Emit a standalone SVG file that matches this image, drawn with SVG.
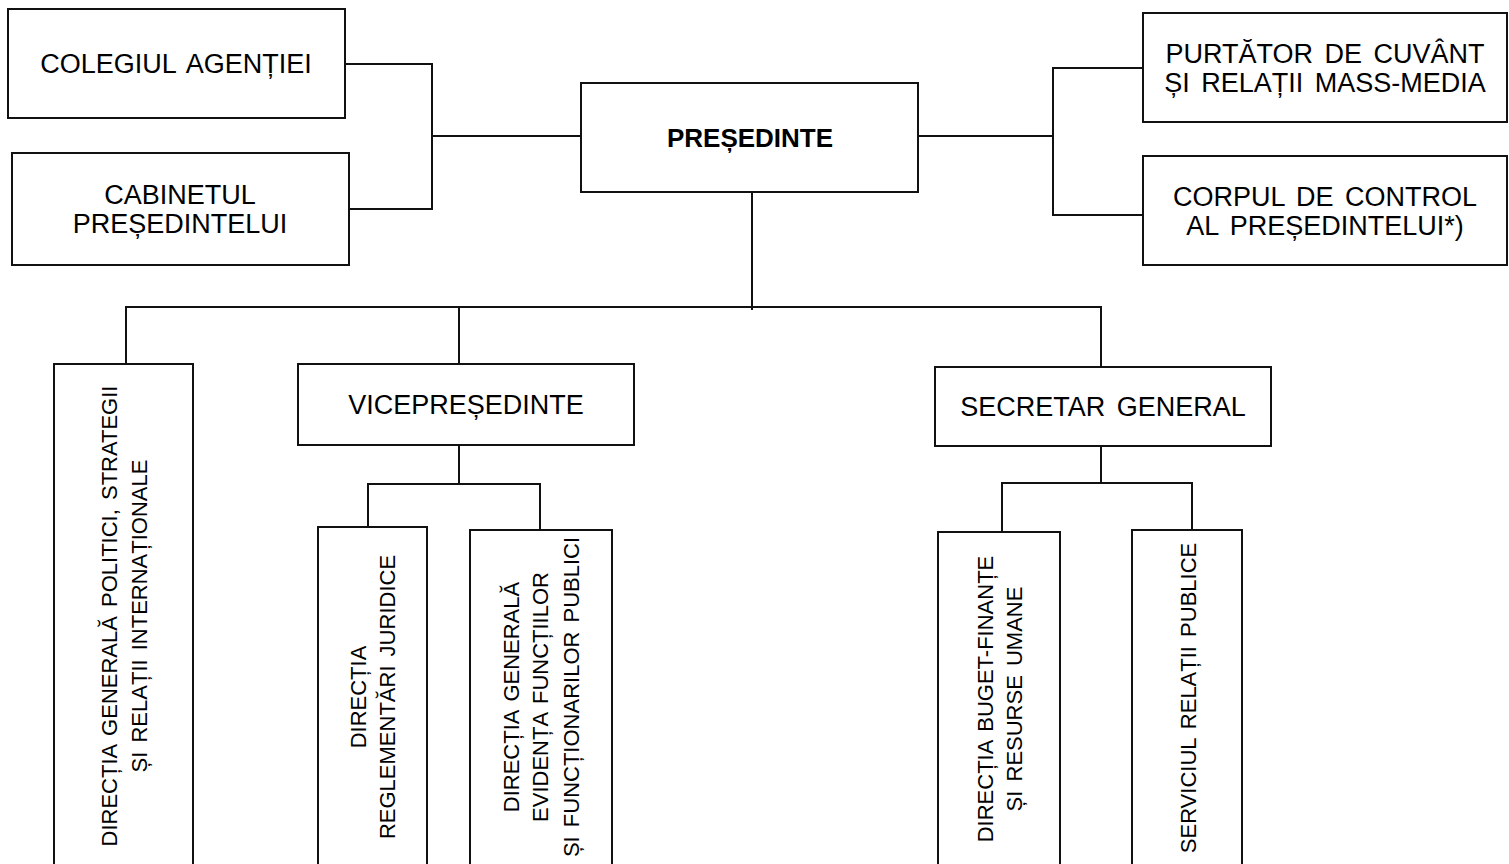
<svg xmlns="http://www.w3.org/2000/svg" width="1509" height="864" viewBox="0 0 1509 864">
<style>
.box{fill:#fff;stroke:#111;stroke-width:2}
.ln{fill:none;stroke:#111;stroke-width:2}
.t{font-family:"Liberation Sans",Arial,Helvetica,sans-serif;font-size:27px;fill:#000;text-anchor:middle;word-spacing:4px}
.b{font-weight:bold;font-size:26px;word-spacing:0}
.v{font-family:"Liberation Sans",Arial,Helvetica,sans-serif;font-size:22px;fill:#000;text-anchor:middle;word-spacing:3px}
</style>
<rect width="1509" height="864" fill="#fff"/>
<g id="connectors">
<polyline class="ln" points="345,64 432,64 432,209 349,209"/>
<line class="ln" x1="432" y1="136" x2="581" y2="136"/>
<line class="ln" x1="918" y1="136" x2="1053" y2="136"/>
<polyline class="ln" points="1143,68 1053,68 1053,215 1143,215"/>
<line class="ln" x1="752" y1="192" x2="752" y2="310"/>
<line class="ln" x1="125" y1="307" x2="1102" y2="307"/>
<line class="ln" x1="126" y1="307" x2="126" y2="364"/>
<line class="ln" x1="459" y1="307" x2="459" y2="364"/>
<line class="ln" x1="1101" y1="307" x2="1101" y2="367"/>
<line class="ln" x1="459" y1="445" x2="459" y2="484"/>
<polyline class="ln" points="368,527 368,484 540,484 540,530"/>
<line class="ln" x1="1101" y1="446" x2="1101" y2="483"/>
<polyline class="ln" points="1002,532 1002,483 1192,483 1192,530"/>
</g>
<g id="colegiul">
<rect class="box" x="8" y="9" width="337" height="109"/>
<text class="t" x="176" y="73">COLEGIUL AGENȚIEI</text>
</g>
<g id="cabinetul">
<rect class="box" x="12" y="153" width="337" height="112"/>
<text class="t" x="180" y="204">CABINETUL</text>
<text class="t" x="180" y="233">PREȘEDINTELUI</text>
</g>
<g id="presedinte">
<rect class="box" x="581" y="83" width="337" height="109"/>
<text class="t b" x="750" y="147">PREȘEDINTE</text>
</g>
<g id="purtator">
<rect class="box" x="1143" y="13" width="364" height="109"/>
<text class="t" x="1325" y="63">PURTĂTOR DE CUVÂNT</text>
<text class="t" x="1325" y="92">ȘI RELAȚII MASS-MEDIA</text>
</g>
<g id="corpul">
<rect class="box" x="1143" y="156" width="364" height="109"/>
<text class="t" x="1325" y="206">CORPUL DE CONTROL</text>
<text class="t" x="1325" y="235">AL PREȘEDINTELUI*)</text>
</g>
<g id="vicepresedinte">
<rect class="box" x="298" y="364" width="336" height="81"/>
<text class="t" x="466" y="414">VICEPREȘEDINTE</text>
</g>
<g id="secretar">
<rect class="box" x="935" y="367" width="336" height="79"/>
<text class="t" x="1103" y="416">SECRETAR GENERAL</text>
</g>
<g id="dir-politici">
<rect class="box" x="54" y="364" width="139" height="520"/>
<text class="v" transform="translate(117,616) rotate(-90)"><tspan x="0" y="0">DIRECȚIA GENERALĂ POLITICI, STRATEGII</tspan><tspan x="0" dy="30">ȘI RELAȚII INTERNAȚIONALE</tspan></text>
</g>
<g id="dir-juridice">
<rect class="box" x="318" y="527" width="109" height="357"/>
<text class="v" transform="translate(366,697) rotate(-90)"><tspan x="0" y="0">DIRECȚIA</tspan><tspan x="0" dy="29">REGLEMENTĂRI JURIDICE</tspan></text>
</g>
<g id="dir-evidenta">
<rect class="box" x="470" y="530" width="142" height="354"/>
<text class="v" transform="translate(519,697) rotate(-90)"><tspan x="0" y="0">DIRECȚIA GENERALĂ</tspan><tspan x="0" dy="29">EVIDENȚA FUNCȚIILOR</tspan><tspan x="0" dy="31">ȘI FUNCȚIONARILOR PUBLICI</tspan></text>
</g>
<g id="dir-buget">
<rect class="box" x="938" y="532" width="122" height="352"/>
<text class="v" transform="translate(993,699) rotate(-90)"><tspan x="0" y="0">DIRECȚIA BUGET-FINANȚE</tspan><tspan x="0" dy="29">ȘI RESURSE UMANE</tspan></text>
</g>
<g id="serviciul">
<rect class="box" x="1132" y="530" width="110" height="354"/>
<text class="v" transform="translate(1196,698) rotate(-90)">SERVICIUL RELAȚII PUBLICE</text>
</g>
</svg>
